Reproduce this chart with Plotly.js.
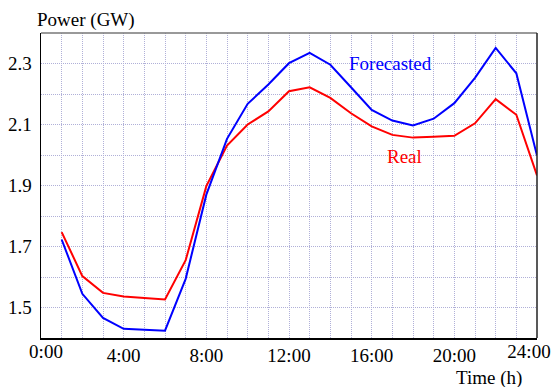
<!DOCTYPE html>
<html>
<head>
<meta charset="utf-8">
<script src="https://cdn.plot.ly/plotly-3.0.1.min.js"></script>
<style>html,body{margin:0;padding:0;background:#fff;}#chart{width:554px;height:387px;}</style>
</head>
<body>
<div id="chart"></div>
<script>
const hours = [1, 2, 3, 4, 5, 6, 7, 8, 9, 10, 11, 12, 13, 14, 15, 16, 17, 18, 19, 20, 21, 22, 23, 24];
const forecasted = [1.723, 1.545, 1.466, 1.430, 1.427, 1.424, 1.594, 1.870, 2.053, 2.168, 2.231, 2.301, 2.335, 2.296, 2.222, 2.148, 2.113, 2.097, 2.119, 2.170, 2.253, 2.351, 2.268, 1.998];
const real = [1.747, 1.603, 1.548, 1.536, 1.531, 1.526, 1.655, 1.898, 2.031, 2.100, 2.143, 2.209, 2.222, 2.187, 2.137, 2.094, 2.066, 2.057, 2.060, 2.063, 2.104, 2.183, 2.132, 1.933];
const xTickVals = [0, 4, 8, 12, 16, 20, 24];
const xTickText = ['', '4:00', '8:00', '12:00', '16:00', '20:00', ''];
const xFirstVal = [0];
const xFirstText = ['0:00'];
const xLastVal = [24];
const xLastText = ['24:00'];
const yTickVals = [1.5, 1.7, 1.9, 2.1, 2.3];
const yTickText = ['1.5', '1.7', '1.9', '2.1', '2.3'];

const fam = 'Times New Roman, Tinos, Liberation Serif, DejaVu Serif, Noto Serif, serif';
const gridColor = '#b0b0d8';
const tf = {family: fam, size: 19, color: '#000'};

const traces = [
  {x: hours, y: real, type: 'scatter', mode: 'lines', name: 'Real',
   line: {color: '#ff0000', width: 2}},
  {x: hours, y: forecasted, type: 'scatter', mode: 'lines', name: 'Forecasted',
   line: {color: '#0000ff', width: 2}},
  {x: [], y: [], type: 'scatter', mode: 'lines', xaxis: 'x2', yaxis: 'y', hoverinfo: 'skip'},
  {x: [], y: [], type: 'scatter', mode: 'lines', xaxis: 'x3', yaxis: 'y', hoverinfo: 'skip'}
];

const layout = {
  width: 554, height: 387,
  margin: {l: 41, r: 17, t: 33, b: 49},
  paper_bgcolor: '#fff', plot_bgcolor: '#fff',
  showlegend: false,
  font: tf,
  xaxis: {
    range: [0, 24], tickmode: 'array', tickvals: xTickVals, ticktext: xTickText,
    showgrid: true, gridcolor: gridColor, griddash: '1px,1px', gridwidth: 1,
    minor: {dtick: 1, tick0: 0, showgrid: true, gridcolor: gridColor, griddash: '1px,1px', gridwidth: 1},
    showline: true, linecolor: '#000', linewidth: 1.5, zeroline: false, ticks: '',
    tickfont: tf
  },
  xaxis2: {
    overlaying: 'x', anchor: 'y', side: 'bottom', range: [0, 24],
    tickmode: 'array', tickvals: xLastVal, ticktext: xLastText,
    showgrid: false, showline: false, zeroline: false, ticks: '',
    ticklabeloverflow: 'allow', ticklabelshift: -8, tickfont: tf
  },
  xaxis3: {
    overlaying: 'x', anchor: 'y', side: 'bottom', range: [0, 24],
    tickmode: 'array', tickvals: xFirstVal, ticktext: xFirstText,
    showgrid: false, showline: false, zeroline: false, ticks: '',
    ticklabeloverflow: 'allow', ticklabelshift: 5, tickfont: tf
  },
  yaxis: {
    range: [1.4, 2.4], tickmode: 'array', tickvals: yTickVals, ticktext: yTickText,
    showgrid: true, gridcolor: gridColor, griddash: '1px,1px', gridwidth: 1,
    minor: {dtick: 0.1, tick0: 1.4, showgrid: true, gridcolor: gridColor, griddash: '1px,1px', gridwidth: 1},
    showline: true, linecolor: '#000', linewidth: 1.5, zeroline: false, ticks: '',
    ticklabelstandoff: 4,
    tickfont: tf
  },
  shapes: [
    {type: 'line', xref: 'paper', yref: 'paper', x0: 0, x1: 1, y0: 1, y1: 1, line: {color: '#777', width: 1.5}},
    {type: 'line', xref: 'paper', yref: 'paper', x0: 1, x1: 1, y0: 0, y1: 1, line: {color: '#222', width: 1.5}}
  ],
  annotations: [
    {text: 'Power (GW)', xref: 'paper', yref: 'paper', x: -0.012, y: 1.042, xanchor: 'left', yanchor: 'middle',
     showarrow: false, font: tf},
    {text: 'Time (h)', xref: 'paper', yref: 'paper', x: 0.904, y: -0.132, xanchor: 'center', yanchor: 'middle',
     showarrow: false, font: tf},
    {text: 'Forecasted', xref: 'x', yref: 'y', x: 16.92, y: 2.301, xanchor: 'center', yanchor: 'middle',
     showarrow: false, font: {family: fam, size: 19, color: '#0000ff'}},
    {text: 'Real', xref: 'x', yref: 'y', x: 17.6, y: 1.996, xanchor: 'center', yanchor: 'middle',
     showarrow: false, font: {family: fam, size: 19, color: '#ff0000'}}
  ]
};

Plotly.newPlot('chart', traces, layout, {displayModeBar: false, staticPlot: true});
</script>
</body>
</html>
